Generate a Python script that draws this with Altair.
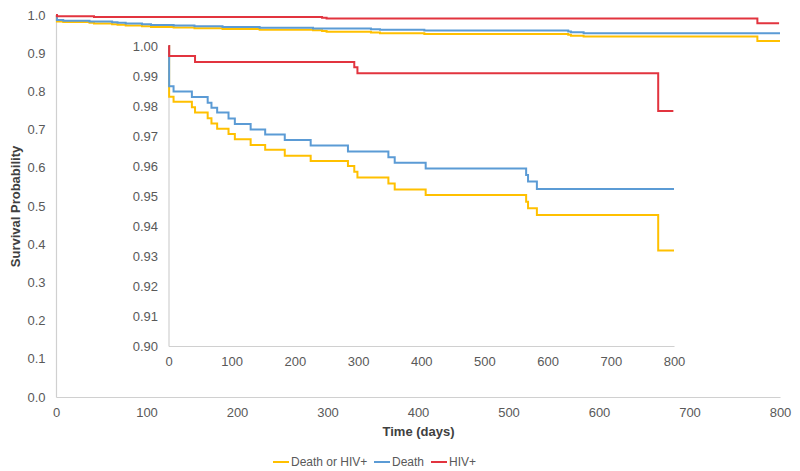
import altair as alt
import pandas as pd

series_names = ["Death or HIV+", "Death", "HIV+"]
series_colors = ["#FFC000", "#5B9BD5", "#E2343F"]

# Kaplan-Meier step points (time in days, survival probability)
yellow_t = [0, 1, 8, 37, 42, 62, 68, 77, 95, 105, 130, 153, 184, 225, 284, 294, 299,
            348, 358, 407, 566, 569, 583, 775, 800]
yellow_v = [1.0, 0.9831, 0.9814, 0.9796, 0.9778, 0.9759, 0.9742, 0.9724, 0.9707, 0.9689,
            0.9670, 0.9654, 0.9634, 0.9617, 0.9600, 0.9581, 0.9562, 0.9542, 0.9522, 0.9503,
            0.9481, 0.9459, 0.9437, 0.9318, 0.9318]

blue_t = [0, 1, 8, 37, 62, 68, 77, 95, 105, 130, 153, 184, 225, 284, 348, 358, 407,
          566, 569, 583, 800]
blue_v = [1.0, 0.9866, 0.9848, 0.9830, 0.9811, 0.9794, 0.9778, 0.9758, 0.9740, 0.9722,
          0.9705, 0.9687, 0.9668, 0.9648, 0.9629, 0.9611, 0.9592, 0.9570, 0.9548, 0.9523,
          0.9523]

red_t = [0, 1, 42, 294, 299, 775, 799]
red_v = [1.0, 0.9967, 0.9947, 0.9929, 0.9909, 0.9783, 0.9783]

main_y_ticks = [0.0, 0.1, 0.2, 0.3, 0.4, 0.5, 0.6, 0.7, 0.8, 0.9, 1.0]
inset_y_ticks = [0.90, 0.91, 0.92, 0.93, 0.94, 0.95, 0.96, 0.97, 0.98, 0.99, 1.00]
x_ticks = [0, 100, 200, 300, 400, 500, 600, 700, 800]

rows = []
for name, ts, vs in [(series_names[0], yellow_t, yellow_v),
                     (series_names[1], blue_t, blue_v),
                     (series_names[2], red_t, red_v)]:
    for t, v in zip(ts, vs):
        rows.append({"series": name, "t": t, "v": v})
df = pd.DataFrame(rows)

axis_common = dict(
    grid=False, ticks=False, domainColor="#d0d0d0", domainWidth=1.2,
    labelColor="#595959", labelFont="Liberation Sans", labelFontSize=13,
    labelFlush=False,
    titleFont="Liberation Sans", titleFontSize=13, titleFontWeight="bold",
    titleColor="#404040",
)

color_scale = alt.Scale(domain=series_names, range=series_colors)

main = alt.Chart(df).mark_line(strokeWidth=2, interpolate="step-after").encode(
    x=alt.X("t:Q", scale=alt.Scale(domain=[0, 800], nice=False),
            axis=alt.Axis(title="Time (days)", values=x_ticks, format="d",
                          labelPadding=9, titlePadding=6, **axis_common)),
    y=alt.Y("v:Q", scale=alt.Scale(domain=[0, 1], nice=False),
            axis=alt.Axis(title="Survival Probability", values=main_y_ticks, format=".1f",
                          labelPadding=11, titlePadding=4, **axis_common)),
    color=alt.Color("series:N", scale=color_scale,
                    legend=alt.Legend(title=None, orient="none", legendX=216, legendY=438,
                                      direction="horizontal", symbolType="stroke",
                                      symbolSize=256, symbolStrokeWidth=2,
                                      labelFont="Liberation Sans", labelFontSize=12,
                                      labelColor="#595959", labelOffset=1,
                                      columnPadding=2)),
)

inset = alt.Chart(df).mark_line(strokeWidth=2, interpolate="step-after").encode(
    x=alt.X("t:Q", scale=alt.Scale(domain=[0, 800], nice=False, range=[112.5, 618]),
            axis=alt.Axis(title=None, orient="bottom", offset=-51, values=x_ticks,
                          format="d", labelPadding=9, **axis_common)),
    y=alt.Y("v:Q", scale=alt.Scale(domain=[0.9, 1.0], nice=False, range=[331, 31]),
            axis=alt.Axis(title=None, orient="left", offset=-112.5, values=inset_y_ticks,
                          format=".2f", labelPadding=11, **axis_common)),
    color=alt.Color("series:N", scale=color_scale, legend=None),
)

chart = alt.layer(main, inset).resolve_scale(
    x="independent", y="independent"
).properties(
    width=724, height=382,
    autosize=alt.AutoSizeParams(type="none"),
    padding={"left": 48, "top": 7, "right": 12, "bottom": 72},
).configure_view(stroke=None)

chart.save("out.html", embed_options={"renderer": "svg", "actions": False})
